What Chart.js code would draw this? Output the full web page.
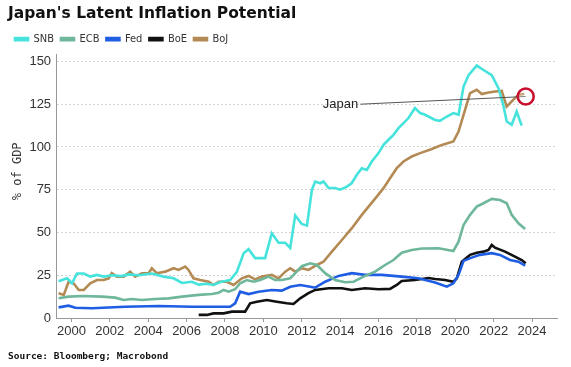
<!DOCTYPE html>
<html>
<head>
<meta charset="utf-8">
<script src="https://cdn.jsdelivr.net/npm/chart.js@4"></script>
<style>
  html, body { margin: 0; padding: 0; background: #fff; }
  #wrap { width: 571px; height: 367px; }
</style>
</head>
<body>
<div id="wrap"><canvas id="chart"></canvas></div>
<script>
// Central bank balance sheets, % of GDP
const snbYears = [1999.33, 1999.77, 2000.03, 2000.29, 2000.64, 2000.98, 2001.33, 2001.68, 2002.1, 2002.6, 2003.0, 2003.5, 2004.19, 2004.8, 2005.32, 2005.76, 2006.28, 2006.63, 2007.06, 2007.4, 2007.75, 2008.27, 2008.62, 2008.97, 2009.23, 2009.57, 2010.09, 2010.44, 2010.79, 2011.14, 2011.4, 2011.66, 2012.0, 2012.27, 2012.53, 2012.7, 2012.96, 2013.13, 2013.4, 2013.74, 2014.0, 2014.35, 2014.6, 2014.87, 2015.13, 2015.39, 2015.65, 2016.0, 2016.26, 2016.52, 2016.78, 2017.04, 2017.3, 2017.56, 2017.9, 2018.17, 2018.43, 2018.95, 2019.2, 2019.56, 2019.9, 2020.17, 2020.43, 2020.69, 2021.12, 2021.47, 2021.9, 2022.25, 2022.5, 2022.68, 2022.94, 2023.2, 2023.46];
const snbValues = [21.5, 23.2, 20.3, 26, 26, 24.2, 25.2, 24.2, 25, 24.5, 25.5, 25, 26, 24.2, 23.2, 20.5, 21.2, 19.5, 20, 19.3, 21, 22.2, 27, 37.8, 40.2, 35, 35, 49.5, 44, 44, 41, 60, 55, 54, 75, 79.8, 78.8, 79.8, 76, 76, 75, 76.8, 78.8, 83.7, 87.6, 86.6, 91.5, 96.4, 101.2, 104.2, 107.1, 111, 113.9, 116.9, 122.7, 119.8, 118.8, 115.8, 115.3, 117.8, 119.8, 118.8, 135.3, 142, 147.6, 145, 142, 134.4, 124.6, 114.9, 113, 120.7, 112.5];

const ecbYears = [1999.33, 1999.85, 2000.55, 2001.59, 2002.28, 2002.72, 2003.15, 2003.67, 2004.36, 2005.06, 2005.76, 2006.63, 2007.32, 2007.67, 2007.93, 2008.19, 2008.53, 2008.79, 2009.14, 2009.49, 2009.83, 2010.27, 2010.61, 2010.96, 2011.4, 2011.66, 2012.0, 2012.44, 2012.79, 2013.22, 2013.74, 2014.26, 2014.7, 2015.22, 2015.82, 2016.34, 2016.78, 2017.21, 2017.73, 2018.26, 2019.13, 2019.9, 2020.17, 2020.43, 2020.77, 2021.12, 2021.47, 2021.9, 2022.33, 2022.68, 2022.94, 2023.29, 2023.64];
const ecbValues = [11.5, 12.5, 12.9, 12.5, 11.9, 10.5, 11.1, 10.5, 11.1, 11.5, 12.5, 13.5, 14, 14.8, 16.4, 15.4, 16.8, 20.3, 22.2, 21.2, 22.2, 24.2, 22.2, 22.2, 23.2, 26.2, 30.3, 32, 31, 26.2, 22.2, 20.9, 21.2, 24.2, 27.1, 31, 33.9, 38.2, 39.8, 40.6, 40.8, 39.2, 44.6, 54.4, 60.3, 65.1, 67.1, 69.6, 69, 67.1, 60.3, 55.4, 52.1];

const fedYears = [1999.33, 1999.85, 2000.2, 2001.07, 2002.8, 2004.54, 2006.28, 2007.49, 2008.27, 2008.53, 2008.79, 2009.23, 2009.75, 2010.44, 2010.96, 2011.4, 2011.92, 2012.44, 2012.7, 2013.22, 2013.92, 2014.61, 2015.3, 2016.17, 2017.21, 2018.08, 2018.95, 2019.56, 2019.9, 2020.17, 2020.43, 2020.86, 2021.29, 2021.9, 2022.33, 2022.85, 2023.29, 2023.64];
const fedValues = [6.2, 7.2, 6, 5.7, 6.6, 7, 6.6, 6.6, 6.6, 8.6, 15.4, 14, 15.4, 16.4, 16, 18.3, 19.3, 18.3, 17.7, 21.2, 24.6, 26.2, 25.2, 25.2, 24.2, 23.2, 20.7, 18.3, 20.3, 25.2, 33.4, 35.3, 36.9, 37.9, 36.9, 33.9, 32.9, 30.6];

const boeYears = [2006.63, 2007.06, 2007.4, 2007.93, 2008.36, 2009.05, 2009.31, 2009.66, 2010.18, 2010.7, 2011.22, 2011.57, 2011.92, 2012.35, 2012.7, 2013.4, 2014.09, 2014.61, 2015.3, 2016.0, 2016.6, 2016.95, 2017.21, 2017.9, 2018.6, 2018.95, 2019.47, 2019.9, 2020.08, 2020.34, 2020.77, 2021.12, 2021.47, 2021.73, 2021.9, 2022.07, 2022.59, 2023.11, 2023.46, 2023.67];
const boeValues = [1.8, 1.8, 2.7, 2.7, 3.7, 3.7, 8.6, 9.5, 10.5, 9.5, 8.6, 8.2, 11.5, 14.5, 16.4, 17.4, 17.4, 16.4, 17.4, 16.8, 17, 19.3, 21.6, 22.2, 23.4, 22.8, 22.2, 21.2, 23.2, 32.9, 36.9, 38.2, 38.8, 39.8, 42.7, 41.1, 38.8, 35.9, 33.9, 32];

const bojYears = [1999.33, 1999.6, 1999.85, 2000.11, 2000.38, 2000.64, 2000.98, 2001.33, 2001.68, 2001.94, 2002.1, 2002.37, 2002.72, 2003.06, 2003.32, 2003.67, 2004.02, 2004.19, 2004.45, 2004.89, 2005.32, 2005.58, 2005.93, 2006.1, 2006.36, 2006.71, 2007.15, 2007.4, 2007.67, 2008.1, 2008.45, 2008.88, 2009.23, 2009.57, 2009.92, 2010.44, 2010.79, 2011.14, 2011.4, 2011.66, 2012.0, 2012.35, 2012.79, 2013.13, 2013.57, 2014.09, 2014.61, 2015.13, 2015.48, 2015.91, 2016.26, 2016.6, 2016.95, 2017.3, 2017.73, 2018.17, 2018.78, 2019.3, 2019.9, 2020.17, 2020.43, 2020.77, 2021.12, 2021.38, 2021.73, 2022.07, 2022.42, 2022.68, 2022.94, 2023.29, 2023.6];
const bojValues = [14.5, 13.5, 21.2, 20.3, 16.4, 16.4, 20.3, 22.2, 22.2, 23.2, 26.2, 24.2, 24.2, 27.1, 24.2, 26.2, 26.2, 29.1, 26.2, 27.1, 29.1, 28.1, 30, 28.1, 23.2, 22.2, 21.2, 19.3, 21.2, 21.2, 19.3, 23.2, 24.6, 22.6, 24.2, 25.2, 23.2, 27.1, 29.1, 27.1, 29.1, 28.1, 31, 32.9, 38.8, 45.6, 52.5, 60.3, 65.1, 71, 75.9, 81.7, 87.6, 91.5, 94.4, 96.4, 98.8, 101.2, 103.2, 109, 118.8, 131.5, 133.4, 130.9, 131.8, 132.4, 132.8, 123.6, 126.6, 130.5, 131];

const yearTicks = [2000, 2002, 2004, 2006, 2008, 2010, 2012, 2014, 2016, 2018, 2020, 2022, 2024];
const pctTicks = [0, 25, 50, 75, 100, 125, 150];

// "Japan" callout: label anchor and circled point (year, % of GDP)
const japanLabelAt = [2015.05, 125];
const japanMarkerAt = [2023.67, 129.5];

const pts = (xs, ys) => xs.map((x, i) => ({ x: x, y: ys[i] }));

function series(label, xs, ys, color) {
  return {
    label: label,
    data: pts(xs, ys),
    borderColor: color,
    backgroundColor: color,
    borderWidth: 2.6,
    pointRadius: 0,
    tension: 0,
    fill: false,
  };
}

// "Japan" text next to the callout line, and the y title a bit above centre
const extraText = {
  id: "extraText",
  afterDatasetsDraw(chart) {
    const ctx = chart.ctx;
    const x = chart.scales.x.getPixelForValue(japanLabelAt[0]);
    const y = chart.scales.y.getPixelForValue(japanLabelAt[1]);
    ctx.save();
    ctx.font = "13px 'Liberation Sans', Arial, sans-serif";
    ctx.fillStyle = "#222";
    ctx.textAlign = "right";
    ctx.textBaseline = "middle";
    ctx.fillText("Japan", x - 2, y);

    const area = chart.chartArea;
    ctx.translate(18, (area.top + area.bottom) / 2 - 15);
    ctx.rotate(-Math.PI / 2);
    ctx.textAlign = "center";
    ctx.font = "12px 'DejaVu Sans Mono', monospace";
    ctx.fillStyle = "#333";
    ctx.fillText("% of GDP", 0, 0);
    ctx.restore();
  },
};

new Chart(document.getElementById("chart"), {
  type: "line",
  data: {
    datasets: [
      series("SNB", snbYears, snbValues, "#45e3dc"),
      series("ECB", ecbYears, ecbValues, "#6fb79b"),
      series("Fed", fedYears, fedValues, "#1f5de3"),
      series("BoE", boeYears, boeValues, "#111111"),
      series("BoJ", bojYears, bojValues, "#b48a54"),
      {
        label: "callout",
        data: [
          { x: japanLabelAt[0], y: japanLabelAt[1] },
          { x: japanMarkerAt[0], y: japanMarkerAt[1] },
        ],
        borderColor: "#555",
        borderWidth: 1,
        pointRadius: 0,
        order: -1,
      },
      {
        label: "marker",
        data: [{ x: japanMarkerAt[0], y: japanMarkerAt[1] }],
        showLine: false,
        pointRadius: 8,
        pointBorderWidth: 2.6,
        pointBorderColor: "#c8102e",
        pointBackgroundColor: "rgba(255,255,255,0.25)",
        order: -2,
      },
    ],
  },
  options: {
    responsive: true,
    maintainAspectRatio: false,
    animation: false,
    layout: { padding: { left: 8, right: 14, top: 5, bottom: 5 } },
    plugins: {
      tooltip: { enabled: false },
      title: {
        display: true,
        text: "Japan's Latent Inflation Potential",
        align: "start",
        color: "#111",
        font: { family: "'DejaVu Sans', Verdana, sans-serif", size: 15.5, weight: "bold" },
        padding: { top: 0, bottom: 3 },
      },
      legend: {
        display: true,
        align: "start",
        labels: {
          filter: (item) => item.datasetIndex < 5,
          boxWidth: 13,
          boxHeight: 2,
          padding: 7,
          color: "#333",
          font: { family: "'DejaVu Sans Condensed', 'DejaVu Sans', sans-serif", size: 11 },
        },
      },
      subtitle: {
        display: true,
        position: "bottom",
        align: "start",
        text: "Source: Bloomberg; Macrobond",
        color: "#111",
        font: { family: "'DejaVu Sans Mono', monospace", size: 9.5, weight: "bold" },
        padding: { top: 9, bottom: 0 },
      },
    },
    scales: {
      x: {
        type: "linear",
        min: 1999.2,
        max: 2025.3,
        afterBuildTicks: (axis) => {
          axis.ticks = yearTicks.map((v) => ({ value: v }));
        },
        ticks: {
          callback: (v) => String(v),
          color: "#333",
          font: { family: "'Liberation Sans', Arial, sans-serif", size: 13 },
          maxRotation: 0,
          autoSkip: false,
          padding: 2,
        },
        grid: {
          drawOnChartArea: false,
          drawTicks: true,
          tickLength: 4,
          color: "#999",
        },
        border: { color: "#999" },
      },
      y: {
        min: 0,
        max: 154,
        afterBuildTicks: (axis) => {
          axis.ticks = pctTicks.map((v) => ({ value: v }));
        },
        ticks: {
          color: "#333",
          font: { family: "'Liberation Sans', Arial, sans-serif", size: 13 },
          padding: 5,
        },
        grid: {
          color: "#d4d4d4",
          drawTicks: false,
        },
        border: { color: "#999", dash: [2, 2] },
        title: {
          // space is kept here; the text itself is drawn by extraText
          display: true,
          text: "% of GDP",
          color: "rgba(0,0,0,0)",
          font: { family: "'DejaVu Sans Mono', monospace", size: 12 },
          padding: { top: 2, bottom: 0 },
        },
      },
    },
  },
  plugins: [extraText],
});
</script>
</body>
</html>
